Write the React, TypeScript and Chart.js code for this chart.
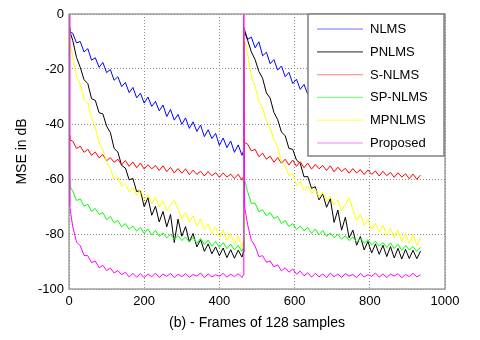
import React, { useEffect, useRef } from "react";
import { Chart, registerables } from "chart.js";

Chart.register(...registerables);

// Frame index (x values), two adaptation runs: 0..464 and 465..935
const frames = [
  0, 2, 10, 20, 30, 40, 50, 60, 70, 80, 90, 100, 110, 120, 130, 140, 150, 160, 170, 180, 190, 200,
  210, 220, 230, 240, 250, 260, 270, 280, 290, 300, 310, 320, 330, 340, 350, 360, 370, 380, 390, 400,
  410, 420, 430, 440, 450, 460, 464,
  465, 467, 475, 485, 495, 505, 515, 525, 535, 545, 555, 565, 575, 585, 595, 605, 615, 625, 635, 645,
  655, 665, 675, 685, 695, 705, 715, 725, 735, 745, 755, 765, 775, 785, 795, 805, 815, 825, 835, 845,
  855, 865, 875, 885, 895, 905, 915, 925, 935,
];

const nlms = [
  -5, -6.5, -7, -10.5, -10, -13.8, -12.6, -16.8, -15.9, -19.4, -17.6, -21.3, -20.2, -24.1, -22.8, -26.4,
  -24.9, -28.6, -26.7, -30.5, -28.8, -32.4, -30.2, -33.6, -31.8, -35.2, -33.1, -37.3, -34.7, -38.6, -36.5,
  -40.1, -37.8, -41.6, -39.2, -42.7, -40.4, -44.6, -42.1, -45.3, -43.4, -47.8, -45.1, -48.6, -46.2, -50.3,
  -47.6, -51.4, -49.8,
  -5, -5.8, -9.2, -8.4, -12.3, -10.1, -15.2, -13.9, -18.1, -16.6, -20.4, -18.9, -22.8, -21.2, -25.3, -23.7,
  -27.4, -25.6, -29.2, -27.8, -31.5, -29.6, -32.9, -30.8, -34.4, -32.3, -35.9, -34.1, -37.6, -35.4, -39.3,
  -37.2, -40.6, -38.5, -41.9, -39.8, -43.5, -41.6, -44.9, -42.8, -46.4, -44.7, -47.8, -45.9, -48.9, -47.1,
  -50.2, -48.6, -51.1,
];

const pnlms = [
  -5, -6.2, -9.6, -15.8, -19.4, -23.9, -25.3, -30.8, -31.4, -35.9, -36.3, -40.8, -43.1, -48.9, -50.2, -55.1,
  -56.0, -60.3, -59.8, -64.6, -64.2, -70.1, -66.8, -73.2, -69.9, -75.6, -71.8, -77.4, -72.9, -83.1, -74.6,
  -80.8, -77.3, -82.9, -79.8, -84.7, -82.1, -86.3, -83.6, -87.2, -84.7, -87.9, -85.1, -88.6, -85.7, -88.8,
  -85.9, -88.4, -86.5,
  -5, -6.4, -9.5, -13.8, -16.6, -20.9, -23.4, -28.7, -30.6, -35.8, -38.4, -42.9, -44.3, -48.9, -49.2, -53.1,
  -54.3, -59.2, -59.1, -63.4, -62.8, -67.6, -65.4, -70.3, -67.2, -75.8, -71.3, -78.6, -73.9, -81.4, -78.6,
  -84.1, -80.9, -85.8, -82.7, -86.9, -83.6, -87.4, -84.1, -88.2, -84.6, -88.7, -85.2, -89.1, -85.6, -88.9,
  -85.9, -89.0, -86.2,
];

const snlms = [
  -44, -45.8, -46.2, -48.9, -48.1, -50.3, -49.2, -51.4, -50.2, -52.3, -51.1, -53.4, -52.2, -53.9, -52.8, -54.9,
  -53.3, -55.4, -53.8, -55.9, -54.2, -56.4, -54.8, -56.3, -55.1, -56.9, -55.2, -57.3, -55.8, -57.8, -56.2,
  -57.9, -56.3, -58.4, -56.8, -58.3, -57.2, -58.9, -57.3, -58.8, -57.7, -59.4, -57.8, -59.3, -58.2, -59.8,
  -58.3, -60.4, -59.1,
  -45, -46.7, -47.3, -49.8, -49.2, -51.9, -50.6, -52.8, -51.7, -53.9, -52.2, -54.3, -52.8, -54.9, -53.1, -55.4,
  -53.7, -55.9, -54.2, -56.4, -54.7, -56.3, -55.1, -56.9, -55.2, -57.4, -55.7, -57.3, -56.1, -57.9, -56.2,
  -57.8, -56.6, -58.4, -56.7, -58.3, -57.1, -58.9, -57.2, -58.8, -57.6, -59.4, -57.7, -59.3, -58.1, -59.9,
  -58.2, -60.1, -58.6,
];

const spnlms = [
  -60, -62.6, -64.4, -67.8, -67.3, -69.9, -69.2, -71.8, -70.7, -72.9, -72.2, -74.8, -73.6, -75.9, -75.1, -77.4,
  -76.2, -78.3, -77.1, -78.9, -77.6, -79.8, -78.2, -80.4, -78.7, -80.9, -79.6, -81.4, -80.1, -81.9, -80.6,
  -82.4, -81.1, -82.9, -81.2, -83.4, -81.6, -83.9, -82.2, -84.4, -82.7, -84.9, -83.1, -85.3, -83.7, -85.8,
  -84.2, -86.4, -84.8,
  -55, -60.4, -64.6, -68.9, -68.8, -71.9, -71.2, -73.4, -72.2, -74.3, -73.6, -76.2, -75.1, -77.3, -76.2, -78.4,
  -77.1, -78.9, -77.6, -79.8, -78.2, -80.3, -78.7, -80.9, -79.6, -81.4, -80.1, -81.9, -80.6, -82.4, -81.1,
  -82.9, -81.6, -83.4, -82.1, -83.9, -82.6, -84.4, -83.1, -84.9, -83.2, -85.3, -83.7, -85.9, -84.2, -85.8,
  -84.6, -86.4, -84.8,
];

const mpnlms = [
  -5, -10.5, -15.4, -22.8, -25.6, -30.9, -32.4, -37.8, -41.2, -46.9, -49.3, -53.8, -56.2, -60.1, -59.2, -62.7,
  -61.6, -64.8, -63.1, -65.9, -63.8, -67.4, -65.7, -68.9, -66.6, -70.2, -67.9, -71.6, -69.4, -67.8, -70.8,
  -74.6, -72.1, -75.7, -73.4, -77.1, -74.6, -78.5, -76.2, -79.8, -77.4, -81.2, -78.6, -82.5, -79.8, -83.6,
  -80.7, -84.9, -81.8,
  -5, -9.4, -14.6, -22.9, -26.3, -31.8, -34.2, -38.9, -41.3, -45.8, -48.2, -53.9, -55.1, -58.8, -58.1, -62.2,
  -60.9, -64.1, -62.4, -65.3, -63.6, -66.8, -64.7, -68.3, -66.2, -69.4, -67.6, -71.5, -69.3, -66.8, -71.1,
  -75.2, -72.8, -76.9, -74.7, -78.4, -76.1, -79.5, -76.8, -80.6, -77.9, -81.4, -78.6, -82.7, -79.8, -83.6,
  -80.3, -84.1, -81.2,
];

const proposed = [
  0, -70, -77.4, -82.9, -84.3, -87.8, -87.9, -90.4, -89.8, -92.3, -91.4, -93.3, -92.4, -94.2, -93.3, -94.8,
  -93.9, -95.6, -94.3, -95.7, -94.4, -95.9, -94.5, -95.6, -94.2, -95.8, -94.6, -95.4, -94.3, -95.9, -94.6,
  -95.5, -94.4, -95.8, -94.7, -95.3, -94.2, -95.9, -94.5, -95.6, -94.8, -95.4, -94.3, -95.7, -94.6, -95.5,
  -94.4, -95.8, -94.9,
  0, -70, -76.6, -82.3, -84.4, -88.2, -87.9, -90.3, -89.8, -91.9, -91.2, -93.4, -92.3, -93.9, -92.7, -94.6,
  -93.5, -95.2, -94.1, -95.7, -94.3, -95.6, -94.5, -95.9, -94.2, -95.5, -94.6, -95.8, -94.4, -95.3, -94.7,
  -95.9, -94.3, -95.6, -94.8, -95.4, -94.2, -95.7, -94.5, -95.8, -94.6, -95.3, -94.4, -95.9, -94.7, -95.5,
  -94.3, -95.6, -94.8,
];

const seriesNames = ["NLMS", "PNLMS", "S-NLMS", "SP-NLMS", "MPNLMS", "Proposed"];
const seriesColors = ["#0000ff", "#000000", "#ff0000", "#00ff00", "#ffff00", "#ff00ff"];
const legendColors = ["#7070ff", "#505050", "#ff9a9a", "#80ff80", "#ffff70", "#ff80ff"];

const xMin = 0;
const xMax = 1000;
const xStep = 200;
const yMin = -100;
const yMax = 0;
const yStep = 20;

const xTitle = "(b) - Frames of 128 samples";
const yTitle = "MSE in dB";

const FONT = '"Liberation Sans", Arial, sans-serif';

const boxPlugin = {
  id: "boxAndLegend",
  afterDraw(chart: any) {
    const { ctx, chartArea } = chart;
    const { left, top, right, bottom } = chartArea;
    ctx.save();
    // axes box
    ctx.strokeStyle = "#8a8a8a";
    ctx.lineWidth = 1.2;
    ctx.strokeRect(left, top, right - left, bottom - top);

    // legend
    const lw = 136;
    const lh = 142;
    const lx = right - lw - 1;
    const ly = top;
    ctx.fillStyle = "#ffffff";
    ctx.fillRect(lx, ly, lw, lh);
    ctx.strokeStyle = "#808080";
    ctx.lineWidth = 1.5;
    ctx.strokeRect(lx, ly, lw, lh);
    ctx.font = `13px ${FONT}`;
    ctx.textBaseline = "middle";
    ctx.textAlign = "left";
    seriesNames.forEach((name, i) => {
      const y = ly + 15 + i * 22.8;
      ctx.strokeStyle = legendColors[i];
      ctx.lineWidth = 1.2;
      ctx.beginPath();
      ctx.moveTo(lx + 9, y);
      ctx.lineTo(lx + 55, y);
      ctx.stroke();
      ctx.fillStyle = "#000";
      ctx.fillText(name, lx + 62, y + 0.5);
    });
    ctx.restore();
  },
};

export default function App() {
  const ref = useRef<HTMLCanvasElement>(null);
  useEffect(() => {
    document.body.style.margin = "0";
    const values = [nlms, pnlms, snlms, spnlms, mpnlms, proposed];
    const chart = new Chart(ref.current as HTMLCanvasElement, {
      type: "line",
      data: {
        datasets: values.map((v, i) => ({
          label: seriesNames[i],
          data: v.map((y, k) => ({ x: frames[k], y })),
          borderColor: seriesColors[i],
          backgroundColor: seriesColors[i],
          borderWidth: 1,
          pointRadius: 0,
          tension: 0,
          fill: false,
          order: 6 - i,
        })),
      },
      options: {
        responsive: false,
        animation: false,
        events: [],
        layout: { padding: { left: 0, top: 14, right: 35, bottom: 0 } },
        plugins: { legend: { display: false }, tooltip: { enabled: false } },
        scales: {
          x: {
            type: "linear",
            min: xMin,
            max: xMax,
            ticks: {
              stepSize: xStep,
              color: "#000",
              font: { family: FONT, size: 13 },
              padding: 5,
              maxRotation: 0,
              callback: (v: any) => String(v),
            },
            grid: { color: "#8c8c8c", drawTicks: false, lineWidth: 1 },
            border: { display: false, dash: [1, 2] },
            title: {
              display: true,
              text: xTitle,
              color: "#000",
              font: { family: FONT, size: 14 },
              padding: { top: 0, bottom: 8 },
            },
            afterFit: (s: any) => {
              s.height = 51;
            },
          },
          y: {
            type: "linear",
            min: yMin,
            max: yMax,
            ticks: {
              stepSize: yStep,
              color: "#000",
              font: { family: FONT, size: 13 },
              padding: 5,
              callback: (v: any) => String(v),
            },
            grid: { color: "#8c8c8c", drawTicks: false, lineWidth: 1 },
            border: { display: false, dash: [1, 2] },
            title: {
              display: true,
              text: yTitle,
              color: "#000",
              font: { family: FONT, size: 14 },
              padding: { top: 14, bottom: 0 },
            },
            afterFit: (s: any) => {
              s.width = 69;
            },
          },
        },
      },
      plugins: [boxPlugin],
    });
    return () => chart.destroy();
  }, []);
  return (
    <div style={{ position: "absolute", left: 0, top: 0, width: 480, height: 340, background: "#fff" }}>
      <canvas ref={ref} width={480} height={340} style={{ display: "block" }} />
    </div>
  );
}
